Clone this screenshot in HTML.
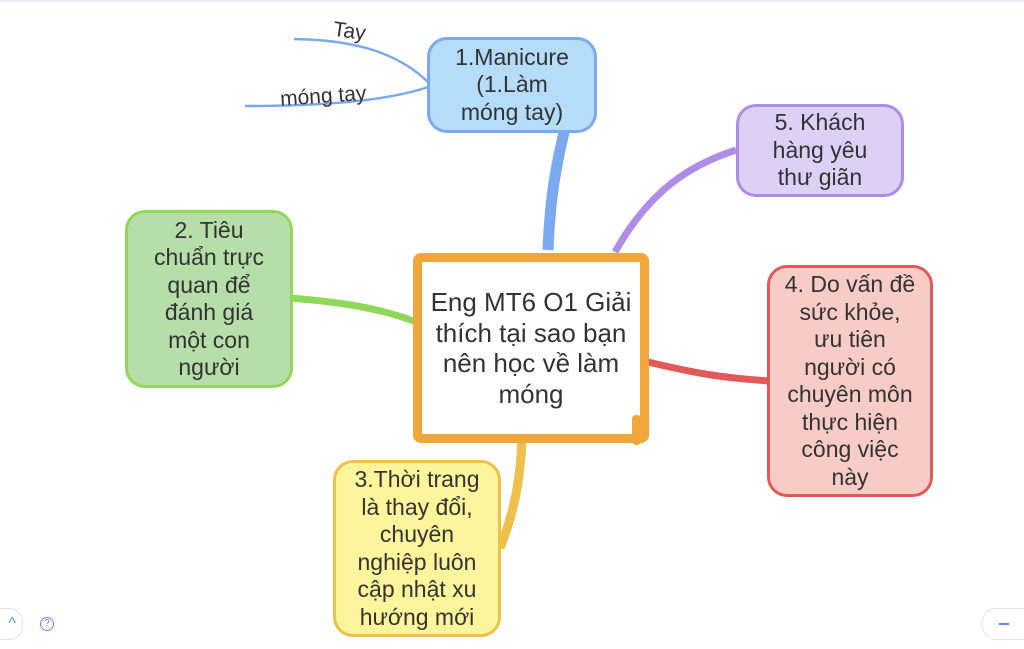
<!DOCTYPE html>
<html><head><meta charset="utf-8"><style>
body{margin:0;width:1024px;height:649px;background:#fff;overflow:hidden;position:relative;font-family:"Liberation Sans","DejaVu Sans",sans-serif}
.n{position:absolute;box-sizing:border-box;border:3px solid;border-radius:20px;display:flex;align-items:center;justify-content:center;text-align:center;font-size:23px;line-height:27.5px;color:#333}
</style></head><body>
<div style="position:absolute;left:0;top:0;width:1024px;height:2px;background:#e4ecf5"></div>
<svg width="1024" height="649" style="position:absolute;left:0;top:0">
<path d="M565 128 C555 170 550 200 548 250" stroke="#7aa9f0" stroke-width="11" fill="none"/>
<path d="M736 150 C690 165 650 190 615 252" stroke="#ae8ce8" stroke-width="7" fill="none"/>
<path d="M290 298 C340 302 380 308 416 322" stroke="#8fd85a" stroke-width="7" fill="none"/>
<path d="M648 362 C690 372 720 378 770 381" stroke="#e05a5a" stroke-width="7" fill="none"/>
<path d="M522 440 C520 480 515 510 500 548" stroke="#efc04a" stroke-width="9" fill="none"/>
<path d="M294 39 C360 40 400 55 428 82" stroke="#7aa9f0" stroke-width="2.5" fill="none"/>
<path d="M245 106 C330 106 390 100 428 87" stroke="#7aa9f0" stroke-width="2.5" fill="none"/>
<text x="333" y="38" font-size="21" fill="#333" transform="rotate(8 350 32)" font-family="Liberation Sans">Tay</text>
<text x="280" y="103" font-size="21" fill="#333" transform="rotate(-4 320 96)" font-family="Liberation Sans">móng tay</text>
</svg>
<div class="n" style="left:427px;top:37px;width:170px;height:96px;background:#b5dcf9;border-color:#7aa9f0">1.Manicure<br>(1.Làm<br>móng tay)</div>
<div class="n" style="left:736px;top:104px;width:168px;height:93px;background:#dcd0f5;border-color:#ae8ce8">5. Khách<br>hàng yêu<br>thư giãn</div>
<div class="n" style="left:125px;top:210px;width:168px;height:178px;background:#b7dea9;border-color:#8fd85a">2. Tiêu<br>chuẩn trực<br>quan để<br>đánh giá<br>một con<br>người</div>
<div class="n" style="left:767px;top:265px;width:166px;height:232px;background:#f7cbc6;border-color:#e05a5a">4. Do vấn đề<br>sức khỏe,<br>ưu tiên<br>người có<br>chuyên môn<br>thực hiện<br>công việc<br>này</div>
<div class="n" style="left:333px;top:460px;width:168px;height:177px;background:#fcf59c;border-color:#efc04a">3.Thời trang<br>là thay đổi,<br>chuyên<br>nghiệp luôn<br>cập nhật xu<br>hướng mới</div>
<div class="n" style="left:413px;top:253px;width:236px;height:190px;background:#fff;border:9px solid #f0a63a;border-radius:8px;font-size:26px;line-height:30.5px">Eng MT6 O1 Giải<br>thích tại sao bạn<br>nên học về làm<br>móng</div>
<div style="position:absolute;left:632px;top:415px;width:9px;height:30px;background:#f0a63a;border-radius:4px"></div>
<div style="position:absolute;left:-10px;top:608px;width:25px;height:30px;border:1px solid #dde3ea;border-radius:14px;color:#5a8de0;font-size:16px;line-height:30px;text-align:right;padding-right:6px">^</div>
<div style="position:absolute;left:40px;top:617px;width:12px;height:12px;border:1px solid #5a8de0;border-radius:50%;color:#5a8de0;font-size:10px;line-height:12px;text-align:center">?</div>
<div style="position:absolute;left:982px;top:608px;width:60px;height:30px;border:1px solid #dde3ea;border-radius:14px"><div style="position:absolute;left:16px;top:14px;width:10px;height:2px;background:#5a8de0"></div></div>
</body></html>
